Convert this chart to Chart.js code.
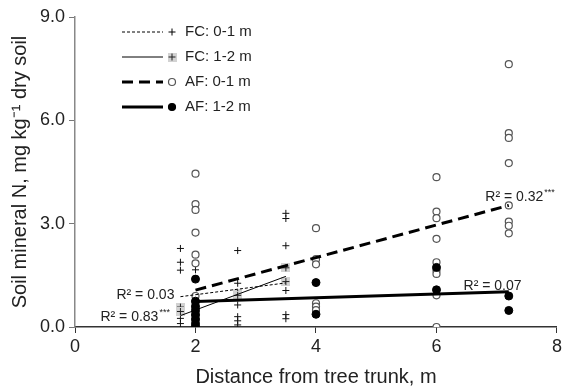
<!DOCTYPE html>
<html>
<head>
<meta charset="utf-8">
<script src="https://cdn.jsdelivr.net/npm/chart.js@4"></script>
<style>
  body { margin: 0; background: #fff; }
  #nChart { display: block; }
</style>
</head>
<body>
<canvas id="nChart" width="565" height="391"></canvas>
<script>
const FONT = "'Liberation Sans', Arial, sans-serif";

// FC 0-1 m (plus)
const fcTopX = [1.75, 1.75, 1.75, 1.75, 1.75, 1.75, 2, 2.7, 2.7, 2.7, 2.7, 2.7, 2.7, 3.5, 3.5, 3.5, 3.5, 3.5, 3.5];
const fcTopY = [2.28, 1.88, 1.65, 0.42, 0.25, 0.1, 1.66, 2.22, 1.27, 0.64, 0.3, 0.18, 0.06, 3.3, 3.15, 2.36, 1.06, 0.36, 0.24];
// FC 1-2 m (plus on grey square)
const fcSubX = [1.75, 1.75, 2.7, 2.7, 3.5, 3.5];
const fcSubY = [0.58, 0.45, 0.98, 0.92, 1.72, 1.32];
// AF 0-1 m (open circles)
const afTopX = [2, 2, 2, 2, 2, 2, 2, 2, 2, 2, 2,
                4, 4, 4, 4, 4, 4,
                6, 6, 6, 6, 6, 6, 6, 6, 6,
                7.2, 7.2, 7.2, 7.2, 7.2, 7.2, 7.2, 7.2];
const afTopY = [4.45, 3.57, 3.4, 2.74, 2.1, 1.85, 0.9, 0.72, 0.55, 0.4, 0.25,
                2.87, 1.97, 1.82, 0.69, 0.59, 0.49,
                4.35, 3.35, 3.16, 2.56, 1.88, 1.64, 1.54, 0.92, 0,
                7.63, 5.63, 5.49, 4.76, 3.53, 3.06, 2.94, 2.72];
// AF 1-2 m (filled circles)
const afSubX = [2, 2, 2, 2, 2, 2, 2, 2, 4, 4, 6, 6, 7.2, 7.2];
const afSubY = [1.39, 0.75, 0.6, 0.48, 0.35, 0.22, 0.1, 0.02, 1.29, 0.37, 1.73, 1.08, 0.9, 0.48];

// regression lines (end points)
const fcTopFitX = [1.75, 3.5], fcTopFitY = [0.88, 1.28];
const fcSubFitX = [1.75, 3.5], fcSubFitY = [0.33, 1.47];
const afTopFitX = [2, 7.2], afTopFitY = [1.07, 3.53];
const afSubFitX = [2, 7.2], afSubFitY = [0.74, 1.02];

const r2Labels = [
  { x: 1.65, y: 0.93, text: 'R² = 0.03', stars: '', align: 'right' },
  { x: 1.575, y: 0.3, text: 'R² = 0.83', stars: '***', align: 'right' },
  { x: 6.81, y: 3.78, text: 'R² = 0.32', stars: '***', align: 'left' },
  { x: 6.45, y: 1.19, text: 'R² = 0.07', stars: '', align: 'left' }
];

const yTicks = [0, 3, 6, 9];
const xTicks = [0, 2, 4, 6, 8];

function pts(xs, ys) {
  return xs.map((x, i) => ({ x: x, y: ys[i] }));
}

function greyPlus() {
  const c = document.createElement('canvas');
  c.width = 9; c.height = 9;
  const g = c.getContext('2d');
  g.fillStyle = '#d2d2d2';
  g.fillRect(0, 0, 9, 9);
  g.strokeStyle = '#222';
  g.lineWidth = 1;
  g.beginPath();
  g.moveTo(4.5, 1); g.lineTo(4.5, 8);
  g.moveTo(1, 4.5); g.lineTo(8, 4.5);
  g.stroke();
  return c;
}
const greyPlusImg = greyPlus();

const legendRows = [
  { label: 'FC: 0-1 m', width: 1, dash: [3, 2], marker: 'plus' },
  { label: 'FC: 1-2 m', width: 1, dash: [], marker: 'grey' },
  { label: 'AF: 0-1 m', width: 3, dash: [11, 6], marker: 'open' },
  { label: 'AF: 1-2 m', width: 3, dash: [], marker: 'filled' }
];

const extras = {
  id: 'extras',
  afterDraw(chart) {
    const ctx = chart.ctx;
    const area = chart.chartArea;
    const sx = chart.scales.x, sy = chart.scales.y;
    ctx.save();
    // R² labels
    r2Labels.forEach(l => {
      const px = sx.getPixelForValue(l.x), py = sy.getPixelForValue(l.y);
      ctx.font = '14px ' + FONT;
      ctx.fillStyle = '#222';
      ctx.textBaseline = 'middle';
      const w = ctx.measureText(l.text).width;
      ctx.font = '9px ' + FONT;
      const ws = l.stars ? ctx.measureText(l.stars).width + 1 : 0;
      const x0 = l.align === 'right' ? px - w - ws : px;
      ctx.font = '14px ' + FONT;
      ctx.textAlign = 'left';
      ctx.fillText(l.text, x0, py);
      if (l.stars) {
        ctx.font = '9px ' + FONT;
        ctx.fillText(l.stars, x0 + w + 1, py - 4);
      }
    });
    // legend
    legendRows.forEach((r, i) => {
      const y = area.top + 15 + i * 25;
      const x0 = area.left + 47;
      ctx.strokeStyle = '#000';
      ctx.lineWidth = r.width;
      ctx.setLineDash(r.dash);
      ctx.beginPath();
      ctx.moveTo(x0, y); ctx.lineTo(x0 + 41, y);
      ctx.stroke();
      ctx.setLineDash([]);
      const mx = x0 + 50;
      if (r.marker === 'plus') {
        ctx.lineWidth = 1;
        ctx.beginPath();
        ctx.moveTo(mx - 3.5, y); ctx.lineTo(mx + 3.5, y);
        ctx.moveTo(mx, y - 3.5); ctx.lineTo(mx, y + 3.5);
        ctx.stroke();
      } else if (r.marker === 'grey') {
        ctx.drawImage(greyPlusImg, mx - 4.5, y - 4.5);
      } else {
        ctx.beginPath();
        ctx.arc(mx, y, 3.5, 0, Math.PI * 2);
        ctx.fillStyle = r.marker === 'open' ? '#fff' : '#000';
        ctx.fill();
        ctx.strokeStyle = r.marker === 'open' ? '#555' : '#000';
        ctx.lineWidth = 1.2;
        ctx.stroke();
      }
      ctx.font = '15px ' + FONT;
      ctx.fillStyle = '#222';
      ctx.textAlign = 'left';
      ctx.textBaseline = 'middle';
      ctx.fillText(r.label, x0 + 63, y);
    });
    ctx.restore();
  }
};

function fitLine(xs, ys, width, dash) {
  return {
    data: pts(xs, ys),
    showLine: true,
    borderColor: '#000',
    borderWidth: width,
    borderDash: dash,
    pointRadius: 0,
    order: 0
  };
}

new Chart(document.getElementById('nChart'), {
  type: 'scatter',
  data: {
    datasets: [
      fitLine(afTopFitX, afTopFitY, 3, [11, 6]),
      fitLine(afSubFitX, afSubFitY, 3, []),
      fitLine(fcTopFitX, fcTopFitY, 1, [3, 2]),
      fitLine(fcSubFitX, fcSubFitY, 1, []),
      {
        data: pts(afSubX, afSubY),
        pointStyle: 'circle', pointRadius: 4,
        backgroundColor: '#000', borderColor: '#000', borderWidth: 1, order: 1
      },
      {
        data: pts(afTopX, afTopY),
        pointStyle: 'circle', pointRadius: 3.5,
        backgroundColor: '#fff', borderColor: '#555', borderWidth: 1.2, order: 2
      },
      {
        data: pts(fcSubX, fcSubY),
        pointStyle: greyPlusImg, order: 3
      },
      {
        data: pts(fcTopX, fcTopY),
        pointStyle: 'cross', pointRadius: 3.5,
        borderColor: '#111', borderWidth: 1, order: 4
      }
    ]
  },
  options: {
    responsive: false,
    animation: false,
    layout: { padding: { top: 17, right: 4 } },
    plugins: { legend: { display: false }, tooltip: { enabled: false } },
    scales: {
      x: {
        type: 'linear', min: 0, max: 8,
        afterBuildTicks: s => { s.ticks = xTicks.map(v => ({ value: v })); },
        ticks: { font: { size: 18, family: FONT }, color: '#222', padding: 3 },
        grid: { drawOnChartArea: false, tickLength: 6, color: '#333' },
        border: { color: '#333', width: 1.5 },
        title: {
          display: true, text: 'Distance from tree trunk, m',
          font: { size: 20, family: FONT }, color: '#222',
          padding: { top: 0, bottom: 2 }
        },
        afterFit: s => { s.height = 64; }
      },
      y: {
        type: 'linear', min: 0, max: 9,
        afterBuildTicks: s => { s.ticks = yTicks.map(v => ({ value: v })); },
        ticks: { font: { size: 18, family: FONT }, color: '#222', padding: 4, callback: v => v.toFixed(1) },
        grid: { drawOnChartArea: false, tickLength: 6, color: '#777' },
        border: { color: '#888', width: 1.5 },
        title: {
          display: true, text: 'Soil mineral N, mg kg⁻¹ dry soil',
          font: { size: 20, family: FONT }, color: '#222',
          padding: { top: 8, bottom: 0 }
        },
        afterFit: s => { s.width = 75; }
      }
    }
  },
  plugins: [extras]
});
</script>
</body>
</html>
